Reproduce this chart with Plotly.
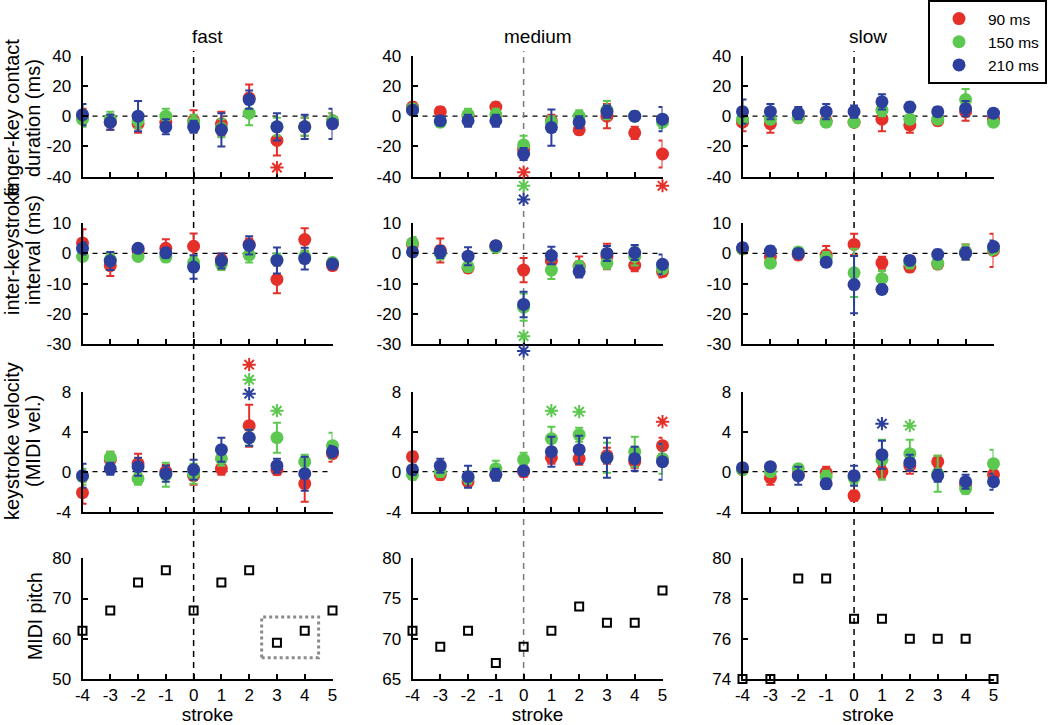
import plotly.graph_objects as go

W, H = 1050, 725
FONT = "Liberation Sans"
FS_TICK = 17
FS_TITLE = 19
FS_LABEL = 20
FS_LEGEND = 15.5

# ---------------- data ----------------
strokes = [-4, -3, -2, -1, 0, 1, 2, 3, 4, 5]
stroke_labels = ["-4", "-3", "-2", "-1", "0", "1", "2", "3", "4", "5"]
tempos = ["fast", "medium", "slow"]
ioi_names = ["90 ms", "150 ms", "210 ms"]
ioi_colors = ["#e5302a", "#5dc84f", "#2c3f9c"]

row_titles = [["finger-key contact", "duration (ms)"], ["inter-keystroke", "interval (ms)"],
              ["keystroke velocity", "(MIDI vel.)"], ["MIDI pitch"]]

# finger-key contact duration (ms): mean and error, per tempo and IOI
dur_fast_90 = [0, -4, -5, -4, -3, -5, 12, -16, -7, -3]
dur_fast_90_err = [5, 5, 6, 5, 7, 8, 9, 10, 6, 5]
dur_fast_150 = [-2, -2, -3, 0, -4, -8, 2, -7, -7, -3]
dur_fast_150_err = [5, 5, 5, 5, 5, 6, 8, 6, 6, 5]
dur_fast_210 = [1, -4, 0, -7, -7, -9, 11, -7, -7, -5]
dur_fast_210_err = [7, 5, 10, 5, 4, 11, 6, 9, 8, 10]

dur_medium_90 = [6, 3, 0, 6, -22, -3, -9, 0, -11, -25]
dur_medium_90_err = [3, 3, 3, 3, 5, 4, 3, 8, 4, 9]
dur_medium_150 = [5, -4, 1, 1, -19, -4, 0, 4, 0, -4]
dur_medium_150_err = [3, 3, 4, 4, 6, 4, 4, 6, 3, 4]
dur_medium_210 = [4, -3, -3, -3, -25, -7.5, -4, 3, 0, -2]
dur_medium_210_err = [3, 3, 4, 4, 4, 12, 4, 4, 3, 8]

dur_slow_90 = [-4, -5, -1, -3, -4, -2, -6, -3, 3, -2]
dur_slow_90_err = [6, 6, 3, 3, 3, 8, 5, 3, 6, 3]
dur_slow_150 = [-2, -2, -1, -4, -4, 4, -2, -2, 11, -4]
dur_slow_150_err = [3, 3, 3, 3, 3, 4, 3, 3, 7, 3]
dur_slow_210 = [3, 3, 2, 3, 3, 9.5, 6, 3, 5, 2]
dur_slow_210_err = [8, 5, 4, 5, 4, 5, 3, 3, 5, 3]

# inter-keystroke interval (ms)
iki_fast_90 = [3.5, -4, 1, 1.7, 2.4, -2, 3, -8.6, 4.6, -4]
iki_fast_90_err = [4.5, 3.5, 1.5, 3, 4.2, 2, 2, 4.6, 3.8, 1.5]
iki_fast_150 = [-1, -2, -1, -1.2, -3, -3.5, -0.5, -2, -1, -3]
iki_fast_150_err = [1.5, 2, 1, 1.5, 2, 2, 2.5, 2, 2, 1.5]
iki_fast_210 = [1.7, -2.5, 1.7, 0.2, -4.5, -2.5, 2.7, -2.3, -1.7, -3.5]
iki_fast_210_err = [2, 3, 1, 1.5, 3.9, 2.5, 3, 4.3, 3.6, 1.5]

iki_medium_90 = [3, 1, -4.8, 2.5, -5.5, -2.5, -4.2, -1, -3.9, -6]
iki_medium_90_err = [2, 4, 1.5, 1, 4, 2, 3.2, 4.2, 2, 2]
iki_medium_150 = [3.5, 0, -4.4, 2, -17.8, -5.5, -4.5, -3.1, -1, -5]
iki_medium_150_err = [2, 2, 1.5, 1, 4.5, 3, 2, 2, 3, 2]
iki_medium_210 = [0.5, 0.5, -0.9, 2.6, -16.9, -0.7, -6, 0, 0.3, -3.6]
iki_medium_210_err = [1.5, 2, 3, 1, 4.2, 2.9, 2, 2.5, 2.5, 3.3]

iki_slow_90 = [1.5, -1, -0.5, -0.5, 3, -3.1, -4.5, -3.5, 0.5, 1]
iki_slow_90_err = [1.5, 1.5, 1.5, 3, 3.5, 2, 1.5, 1.5, 2.5, 5.5]
iki_slow_150 = [1.5, -3.2, 0.5, -1.5, -6.4, -8.3, -3, -3.1, 0.5, 1.5]
iki_slow_150_err = [1.5, 1.5, 1.5, 2, 8, 2.5, 2, 2, 2.5, 2]
iki_slow_210 = [1.9, 0.8, 0, -2.9, -10.3, -11.9, -2.3, -0.3, 0, 2.3]
iki_slow_210_err = [1.5, 1.5, 1.5, 1.5, 9.5, 1.5, 1.5, 1.5, 2, 2]

# keystroke velocity (MIDI vel.)
vel_fast_90 = [-2.1, 1.2, 0.8, 0, -0.4, 0.3, 4.6, 0.2, -1.2, 1.8]
vel_fast_90_err = [1.1, 0.8, 1.0, 0.7, 0.9, 0.6, 2.1, 0.5, 1.8, 0.8]
vel_fast_150 = [-0.5, 1.4, -0.7, -0.3, -0.2, 1.3, 3.4, 3.4, 1.0, 2.6]
vel_fast_150_err = [0.8, 0.6, 0.6, 1.2, 1.0, 0.7, 0.8, 1.5, 0.7, 1.3]
vel_fast_210 = [-0.4, 0.3, 0.5, -0.2, 0.2, 2.2, 3.4, 0.6, -0.2, 2.0]
vel_fast_210_err = [1.2, 0.6, 0.9, 0.8, 1.0, 1.2, 0.8, 0.7, 1.7, 0.6]

vel_medium_90 = [1.5, -0.3, -1, -0.3, 0, 1.4, 1.3, 1.6, 1.0, 2.6]
vel_medium_90_err = [0.5, 0.5, 0.5, 0.5, 0.5, 0.6, 0.6, 0.8, 0.6, 0.8]
vel_medium_150 = [-0.3, 0, -0.6, 0.3, 1.2, 3.3, 3.7, 1.4, 2.0, 1.3]
vel_medium_150_err = [0.5, 0.5, 0.6, 0.8, 0.7, 1.2, 0.7, 1.5, 1.5, 1.5]
vel_medium_210 = [0.2, 0.6, -0.5, -0.3, 0.1, 2.0, 2.2, 1.4, 1.3, 1.0]
vel_medium_210_err = [0.5, 0.7, 1.1, 0.6, 0.4, 1.5, 1.4, 2.0, 1.2, 1.8]

vel_slow_90 = [0.2, -0.6, -0.3, -0.1, -2.4, 0, 0.6, 1.0, -1.3, -0.3]
vel_slow_90_err = [0.4, 0.7, 0.5, 0.6, 0.5, 0.6, 0.8, 0.6, 0.5, 0.5]
vel_slow_150 = [0.2, 0, 0.3, -0.5, -0.6, 1.2, 1.8, -0.2, -1.7, 0.8]
vel_slow_150_err = [0.4, 0.4, 0.4, 0.6, 0.6, 2.0, 1.4, 1.8, 0.5, 1.4]
vel_slow_210 = [0.4, 0.5, -0.4, -1.2, -0.4, 1.7, 0.9, -0.4, -1.0, -1.0]
vel_slow_210_err = [0.3, 0.3, 0.9, 0.5, 1.0, 1.4, 0.8, 0.6, 0.7, 0.8]

# MIDI pitch of each stroke
pitch_fast = [62, 67, 74, 77, 67, 74, 77, 59, 62, 67]
pitch_medium = [71, 69, 71, 67, 69, 71, 74, 72, 72, 76]
pitch_slow = [74, 74, 79, 79, 77, 77, 76, 76, 76, 74]

# significance asterisks: stroke, height, IOI index
star_dur_fast = ([3], [-34], [0])
star_dur_medium = ([0, 0, 0, 5], [-37, -46, -55, -46], [0, 1, 2, 0])
star_dur_slow = ([], [], [])
star_iki_fast = ([], [], [])
star_iki_medium = ([0, 0], [-27.4, -32.3], [1, 2])
star_iki_slow = ([], [], [])
star_vel_fast = ([2, 2, 2, 3], [10.7, 9.2, 7.8, 6.1], [0, 1, 2, 1])
star_vel_medium = ([1, 2, 5], [6.1, 6.0, 5.0], [1, 1, 0])
star_vel_slow = ([1, 2], [4.8, 4.6], [2, 1])

# dotted highlight box (fast pitch panel)
highlight_strokes = [2.45, 4.5]
highlight_pitch = [55.3, 65.4]

measures = {
    0: {"fast": [(dur_fast_90, dur_fast_90_err), (dur_fast_150, dur_fast_150_err), (dur_fast_210, dur_fast_210_err)],
        "medium": [(dur_medium_90, dur_medium_90_err), (dur_medium_150, dur_medium_150_err), (dur_medium_210, dur_medium_210_err)],
        "slow": [(dur_slow_90, dur_slow_90_err), (dur_slow_150, dur_slow_150_err), (dur_slow_210, dur_slow_210_err)]},
    1: {"fast": [(iki_fast_90, iki_fast_90_err), (iki_fast_150, iki_fast_150_err), (iki_fast_210, iki_fast_210_err)],
        "medium": [(iki_medium_90, iki_medium_90_err), (iki_medium_150, iki_medium_150_err), (iki_medium_210, iki_medium_210_err)],
        "slow": [(iki_slow_90, iki_slow_90_err), (iki_slow_150, iki_slow_150_err), (iki_slow_210, iki_slow_210_err)]},
    2: {"fast": [(vel_fast_90, vel_fast_90_err), (vel_fast_150, vel_fast_150_err), (vel_fast_210, vel_fast_210_err)],
        "medium": [(vel_medium_90, vel_medium_90_err), (vel_medium_150, vel_medium_150_err), (vel_medium_210, vel_medium_210_err)],
        "slow": [(vel_slow_90, vel_slow_90_err), (vel_slow_150, vel_slow_150_err), (vel_slow_210, vel_slow_210_err)]},
}
stars = {
    0: {"fast": star_dur_fast, "medium": star_dur_medium, "slow": star_dur_slow},
    1: {"fast": star_iki_fast, "medium": star_iki_medium, "slow": star_iki_slow},
    2: {"fast": star_vel_fast, "medium": star_vel_medium, "slow": star_vel_slow},
}
pitches = {"fast": pitch_fast, "medium": pitch_medium, "slow": pitch_slow}

y_ranges = [[-40, 40], [-30, 10], [-4, 8]]
y_ticks = [[-40, -20, 0, 20, 40], [-30, -20, -10, 0, 10], [-4, 0, 4, 8]]
pitch_ranges = {"fast": [50, 80], "medium": [65, 80], "slow": [74, 80]}
pitch_ticks = {"fast": [50, 60, 70, 80], "medium": [65, 70, 75, 80], "slow": [74, 76, 78, 80]}

# ---------------- layout geometry (pixels) ----------------
col_px = [(82.5, 332.5), (412.5, 662.5), (742.5, 993.5)]
row_px = [(55.7, 176.7), (223.3, 344.0), (391.7, 511.7), (558.3, 679.0)]
row_label_y = [118, 250, 441, 616]
row_label_lines_x = [[12, 33], [12, 33], [12, 33], [35]]
vline_colors = ["black", "#7a7a7a", "black"]

fig = go.Figure()
layout = dict(
    width=W, height=H, autosize=False,
    margin=dict(l=0, r=0, t=0, b=0),
    paper_bgcolor="white", plot_bgcolor="rgba(0,0,0,0)",
    font=dict(family=FONT, size=FS_TICK, color="black"),
    showlegend=True,
    template="none",
)
shapes = []
annotations = []


def axid(k):
    return "" if k == 1 else str(k)


for r in range(4):
    for c, tempo in enumerate(tempos):
        k = r * 3 + c + 1
        xa, ya = "x" + axid(k), "y" + axid(k)
        xname, yname = "xaxis" + axid(k), "yaxis" + axid(k)
        if r < 3:
            yr, yt = y_ranges[r], y_ticks[r]
        else:
            yr, yt = pitch_ranges[tempo], pitch_ticks[tempo]
        dom = [1 - row_px[r][1] / H, 1 - row_px[r][0] / H]
        axis_common = dict(showline=True, linecolor="black", linewidth=2, ticks="inside",
                           ticklen=5, tickwidth=2, tickcolor="black", showgrid=False,
                           zeroline=False, fixedrange=True, automargin=False,
                           tickfont=dict(family=FONT, size=FS_TICK, color="black"))
        layout[xname] = dict(axis_common, domain=[col_px[c][0] / W, col_px[c][1] / W],
                             range=[-4, 5], anchor=ya, tickmode="array", tickvals=strokes,
                             ticktext=stroke_labels, showticklabels=(r == 3))
        if r == 3:
            layout[xname]["title"] = dict(text="stroke", standoff=8,
                                          font=dict(family=FONT, size=FS_TITLE, color="black"))
        layout[yname] = dict(axis_common, domain=dom,
                             range=yr, anchor=xa, tickmode="array", tickvals=yt,
                             ticktext=[str(v) for v in yt], ticklabelstandoff=6)

        if r < 3:
            shapes.append(dict(type="line", xref=f"{xa} domain", x0=0, x1=1, yref=ya, y0=0, y1=0,
                               line=dict(color="black", width=1.3, dash="5px,5px"), layer="below"))
            for s, (vals, errs) in enumerate(measures[r][tempo]):
                fig.add_trace(go.Scatter(
                    x=strokes, y=vals, mode="markers", xaxis=xa, yaxis=ya,
                    name=ioi_names[s], legendgroup=ioi_names[s],
                    showlegend=(k == 1),
                    marker=dict(color=ioi_colors[s], size=13, line=dict(width=0)),
                    error_y=dict(type="data", array=errs, visible=True, color=ioi_colors[s],
                                 thickness=2, width=4),
                    cliponaxis=False,
                ))
            sx, sy, si = stars[r][tempo]
            if sx:
                # hidden companion y-axis: same data scale as the panel, but spanning the
                # whole figure height so asterisks outside the panel range stay visible
                n = 12 + k
                span = (yr[1] - yr[0]) / (dom[1] - dom[0])
                layout["yaxis" + str(n)] = dict(domain=[0, 1], anchor=xa, visible=False,
                                                fixedrange=True, showgrid=False, zeroline=False,
                                                range=[yr[0] - dom[0] * span,
                                                       yr[1] + (1 - dom[1]) * span])
                star_cols = [ioi_colors[i] for i in si]
                fig.add_trace(go.Scatter(
                    x=sx, y=sy, mode="markers", xaxis=xa, yaxis="y" + str(n), showlegend=False,
                    marker=dict(symbol="asterisk-open", size=11, color=star_cols,
                                line=dict(color=star_cols, width=2)),
                    cliponaxis=False, hoverinfo="skip",
                ))
        else:
            fig.add_trace(go.Scatter(
                x=strokes, y=pitches[tempo], mode="markers", xaxis=xa, yaxis=ya,
                showlegend=False,
                marker=dict(symbol="square-open", size=8, color="black",
                            line=dict(color="black", width=2)),
                cliponaxis=False,
            ))
            if tempo == "fast":
                shapes.append(dict(type="rect", xref=xa, yref=ya,
                                   x0=highlight_strokes[0], x1=highlight_strokes[1],
                                   y0=highlight_pitch[0], y1=highlight_pitch[1],
                                   line=dict(color="#8a8a8a", width=3, dash="dot"), layer="below"))

    # row label (one annotation per line, to match the original line spacing)
    for line_text, lx in zip(row_titles[r], row_label_lines_x[r]):
        annotations.append(dict(text=line_text, xref="paper", yref="paper",
                                x=lx / W, y=1 - row_label_y[r] / H,
                                xanchor="center", yanchor="middle", textangle=-90,
                                showarrow=False,
                                font=dict(family=FONT, size=FS_LABEL if r < 3 else 19.5,
                                          color="black")))

# vertical dashed line at stroke 0 through each column, column titles
for c, tempo in enumerate(tempos):
    xa = "x" + axid(c + 1)
    shapes.append(dict(type="line", xref=xa, x0=0, x1=0, yref="paper",
                       y0=1 - 679 / H, y1=1 - 51 / H,
                       line=dict(color=vline_colors[c], width=1.5, dash="6px,5px"), layer="below"))
    annotations.append(dict(text=tempo, xref="paper", yref="paper",
                            x=(col_px[c][0] + col_px[c][1]) / 2 / W, y=1 - 36 / H,
                            xanchor="center", yanchor="middle", showarrow=False,
                            font=dict(family=FONT, size=FS_TITLE, color="black")))

layout["shapes"] = shapes
layout["annotations"] = annotations
layout["legend"] = dict(x=1047 / W, y=1, xanchor="right", yanchor="top",
                        bordercolor="black", borderwidth=2, bgcolor="white",
                        font=dict(family=FONT, size=FS_LEGEND, color="black"), itemwidth=48,
                        tracegroupgap=0)

fig.update_layout(**layout)
fig.write_html("out.html", config={"displayModeBar": False},
               post_script="document.body.style.margin='0';document.body.style.overflow='hidden';")
